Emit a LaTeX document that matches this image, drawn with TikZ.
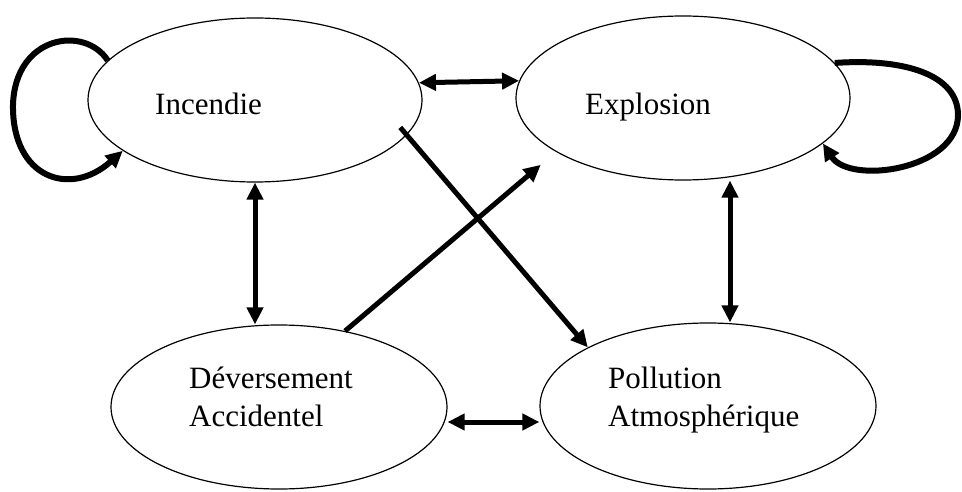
\documentclass[tikz,border=0pt]{standalone}
\usepackage{fontspec}
\setmainfont{Liberation Serif}
\usetikzlibrary{shapes.geometric,arrows.meta}

\begin{document}
\begin{tikzpicture}[x=1pt,y=-1pt,
  event/.style={draw,ellipse,line width=1.2pt,inner sep=0pt,minimum width=334pt,minimum height=164pt},
  lbl/.style={anchor=base west,align=left,inner sep=0pt,font=\fontsize{31}{38}\selectfont},
  link/.style={line width=5pt,-{Triangle[length=17pt,width=16pt]}},
  both/.style={link,{Triangle[length=17pt,width=16pt]}-{Triangle[length=17pt,width=16pt]}}]
\useasboundingbox (0,0) rectangle (962,492);
\node[event] (inc) at (255,100) {}; \node[event] (exp) at (683,98) {};
\node[event,minimum width=336pt] (dev) at (279,407) {}; \node[event,minimum width=336pt,minimum height=166pt] (pol) at (708,406) {};
\node[lbl] (tinc) at (155,115) {Incendie}; \node[lbl] (texp) at (585,115) {Explosion};
\node[lbl] (tdev) at (189,426) {Déversement\\Accidentel}; \node[lbl] (tpol) at (608,426) {Pollution\\Atmosphérique};
% liaisons
\draw[both] (inc.6) -- (exp.174);
\draw[both] (inc.south) -- (inc.south |- dev.north);
\draw[both] ([xshift=47pt]exp.south) -- ([xshift=22pt]pol.north);
\draw[both] ([yshift=-15pt]dev.east) -- ([yshift=-15pt]dev.east -| pol.west);
\draw[link,shorten <=-10pt] (inc.-13) -- (pol.154);
\draw[link,shorten >=20pt] (dev.49) -- (exp.-157);
% boucles
\draw[link,line width=6pt] (inc.165) .. controls (85,25) and (15,35) .. (13,105) .. controls (12,178) and (70,198) .. (inc.201);
\draw[link,line width=6pt] (exp.13) .. controls (905,58) and (958,75) .. (958,115) .. controls (958,170) and (850,185) .. (exp.-18);
\end{tikzpicture}
\end{document}
